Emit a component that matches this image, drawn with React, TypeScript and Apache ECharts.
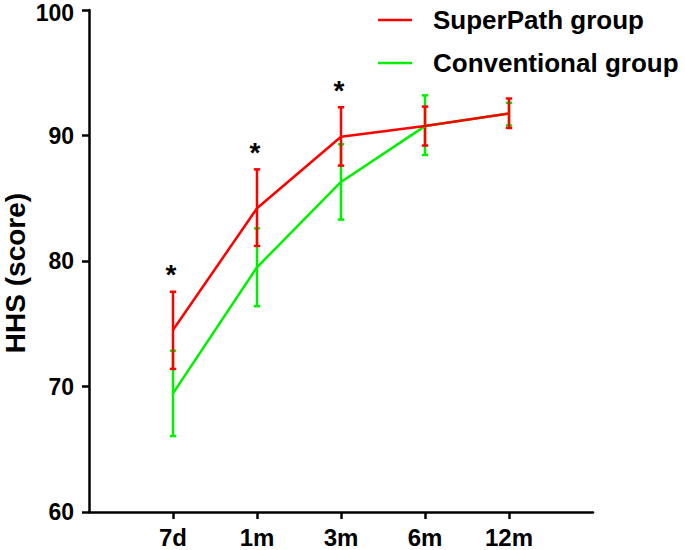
import React, { useEffect, useRef } from "react";
import * as echarts from "echarts";

const categories = ["", "7d", "1m", "3m", "6m", "12m", ""];
const superPathMean = [null, 74.5, 84.2, 89.9, 90.75, 91.75, null];
const superPathLow = [null, 71.4, 81.2, 87.6, 89.2, 90.6, null];
const superPathHigh = [null, 77.55, 87.3, 92.25, 92.3, 92.95, null];
const conventionalMean = [null, 69.45, 79.5, 86.3, 90.75, 91.75, null];
const conventionalLow = [null, 66.05, 76.4, 83.3, 88.45, 90.8, null];
const conventionalHigh = [null, 72.85, 82.6, 89.3, 93.2, 92.6, null];
const significant = [false, true, true, true, false, false, false];
const yTicks = { min: 60, max: 100, interval: 10 };

const RED = "#ff0000";
const GREEN = "#00f000";
const FONT = "Arial, 'Liberation Sans', sans-serif";
const LEGEND_ICON = "path://M0 0 L34 0 L34 2.5 L0 2.5 Z";

function errData(low: (number | null)[], high: (number | null)[]) {
  const out: number[][] = [];
  low.forEach((l, i) => {
    const h = high[i];
    if (l != null && h != null) out.push([i, l, h]);
  });
  return out;
}

function errorSeries(name: string, low: (number | null)[], high: (number | null)[], color: string) {
  return {
    type: "custom",
    name: name + "-err",
    data: errData(low, high),
    silent: true,
    renderItem: (params: any, api: any) => {
      const lo = api.coord([api.value(0), api.value(1)]);
      const hi = api.coord([api.value(0), api.value(2)]);
      const cap = 3.2;
      const style = { stroke: color, lineWidth: 2.5, fill: "none" };
      return {
        type: "group",
        children: [
          { type: "line", shape: { x1: lo[0], y1: lo[1], x2: hi[0], y2: hi[1] }, style },
          { type: "line", shape: { x1: lo[0] - cap, y1: lo[1], x2: lo[0] + cap, y2: lo[1] }, style },
          { type: "line", shape: { x1: hi[0] - cap, y1: hi[1], x2: hi[0] + cap, y2: hi[1] }, style },
        ],
      };
    },
  };
}

export default function App() {
  const ref = useRef<HTMLDivElement>(null);
  useEffect(() => {
    if (!ref.current) return;
    const chart = echarts.init(ref.current, null, { renderer: "svg" });
    const starData: number[][] = [];
    significant.forEach((s, i) => {
      const h = superPathHigh[i];
      if (s && h != null) starData.push([i, h]);
    });
    const yLabelStyle = { color: "#000", fontSize: 23, lineHeight: 20, fontWeight: "bold", fontFamily: FONT };
    chart.setOption({
      animation: false,
      grid: { left: 89, right: 92, top: 10, bottom: 38, containLabel: false, outerBoundsMode: "none" },
      legend: {
        left: 378,
        top: 7,
        orient: "vertical",
        itemWidth: 34,
        itemHeight: 26,
        itemGap: 17,
        padding: 0,
        data: [
          { name: "SuperPath group", icon: LEGEND_ICON },
          { name: "Conventional group", icon: LEGEND_ICON },
        ],
        textStyle: { fontSize: 26, fontWeight: "bold", color: "#000", fontFamily: FONT, padding: [0, 0, 0, 16] },
      },
      xAxis: {
        type: "category",
        data: categories,
        boundaryGap: false,
        axisLine: { lineStyle: { color: "#000", width: 2.5 } },
        axisTick: {
          length: 7,
          lineStyle: { color: "#000", width: 2.5 },
          interval: (i: number) => i > 0 && i < categories.length - 1,
        },
        axisLabel: {
          color: "#000",
          fontSize: 24,
          lineHeight: 22,
          fontWeight: "bold",
          fontFamily: FONT,
          margin: 14,
          interval: 0,
        },
        splitLine: { show: false },
      },
      yAxis: {
        type: "value",
        min: yTicks.min,
        max: yTicks.max,
        interval: yTicks.interval,
        name: "HHS (score)",
        nameLocation: "middle",
        nameGap: 60,
        nameMoveOverlap: false,
        nameTextStyle: {
          color: "#000",
          fontSize: 28,
          lineHeight: 28,
          fontWeight: "bold",
          fontFamily: FONT,
          padding: [0, 24, 0, 0],
        },
        axisLine: { show: true, lineStyle: { color: "#000", width: 2.5 } },
        axisTick: { show: true, length: 7, lineStyle: { color: "#000", width: 2.5 } },
        axisLabel: {
          ...yLabelStyle,
          margin: 15,
          formatter: (v: number) => (v === yTicks.max ? `{top|${v}}` : `${v}`),
          rich: { top: { ...yLabelStyle, padding: [5, 0, 0, 0] } },
        },
        splitLine: { show: false },
      },
      series: [
        errorSeries("Conventional group", conventionalLow, conventionalHigh, GREEN),
        {
          type: "line",
          name: "Conventional group",
          data: conventionalMean.map((v) => (v == null ? "-" : v)),
          symbol: "none",
          color: GREEN,
          lineStyle: { color: GREEN, width: 2.5 },
        },
        errorSeries("SuperPath group", superPathLow, superPathHigh, RED),
        {
          type: "line",
          name: "SuperPath group",
          data: superPathMean.map((v) => (v == null ? "-" : v)),
          symbol: "none",
          color: RED,
          lineStyle: { color: RED, width: 2.5 },
        },
        {
          type: "custom",
          name: "stars",
          data: starData,
          silent: true,
          renderItem: (params: any, api: any) => {
            const p = api.coord([api.value(0), api.value(1)]);
            return {
              type: "text",
              x: p[0] - 2,
              y: p[1] - 17,
              style: {
                text: "*",
                fill: "#000",
                fontSize: 28,
                fontWeight: "bold",
                fontFamily: FONT,
                align: "center",
                verticalAlign: "middle",
              },
            };
          },
        },
      ],
    });
    return () => chart.dispose();
  }, []);
  return <div ref={ref} style={{ width: 685, height: 550, position: "absolute", left: 0, top: 0 }} />;
}
